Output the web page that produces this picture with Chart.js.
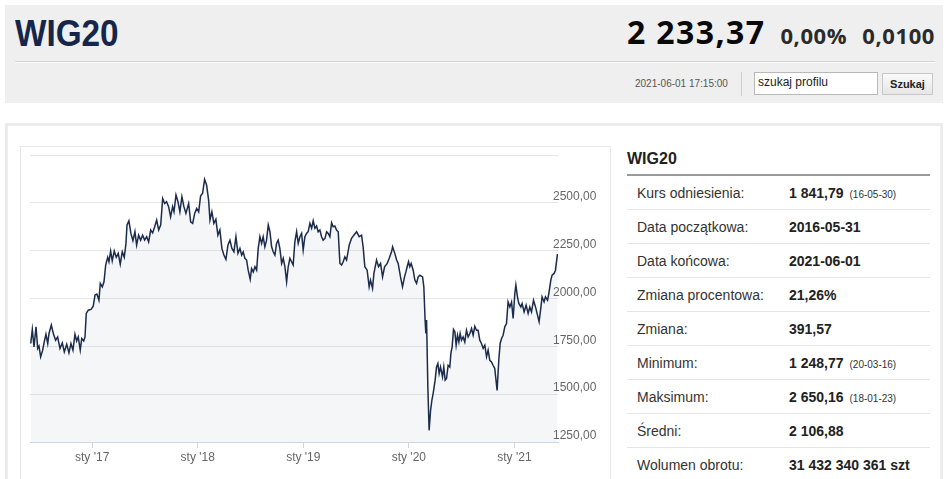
<!DOCTYPE html>
<html lang="pl">
<head>
<meta charset="utf-8">
<script src="https://cdn.jsdelivr.net/npm/chart.js@4.4.0/dist/chart.umd.min.js"></script>
<style>
  body { margin: 0; width: 948px; height: 479px; background: #fff; font-family: "Liberation Sans", Arial, sans-serif; position: relative; overflow: hidden; }
  .top { position: absolute; left: 5px; top: 5px; width: 938px; height: 98px; background: #efefef; }
  .title { position: absolute; left: 15px; top: 13px; font-size: 37px; font-weight: bold; color: #16264a; transform: scaleX(0.9); transform-origin: left top; }
  .price { position: absolute; right: 13px; top: 12px; white-space: nowrap; font-family: "Open Sans", sans-serif; font-weight: bold; line-height: 40px; }
  .price .big { font-size: 32px; letter-spacing: 1.4px; color: #0a0a0a; }
  .price .small { font-size: 22px; letter-spacing: 0.6px; margin-left: 15px; color: #2a2a2a; }
  .sep { position: absolute; left: 15px; top: 61px; width: 920px; height: 1px; background: #d6d6d6; border-bottom: 1px solid #fafafa; }
  .date { position: absolute; left: 635px; top: 78px; font-size: 10px; color: #555; }
  .vsep { position: absolute; left: 741px; top: 72px; width: 1px; height: 24px; background: #d0d0d0; }
  .search { position: absolute; left: 754px; top: 72px; background: #fff; border: 1px solid #b8b8b8; font-size: 12px; color: #222; line-height: 19px; padding-left: 3px; box-sizing: border-box; width: 124px; height: 23px; }
  .btn { position: absolute; left: 882px; top: 73px; width: 51px; height: 22px; background: linear-gradient(#fafafa, #e6e6e6); border: 1px solid #c8c8c8; box-sizing: border-box; font-size: 11px; font-weight: bold; color: #222; text-align: center; line-height: 20px; }
  .panel { position: absolute; left: 5px; top: 123px; width: 938px; height: 370px; border: 3px solid #ececec; box-sizing: border-box; }
  .chartbox { position: absolute; left: 20px; top: 146px; width: 591px; height: 340px; border: 1px solid #e8e8e8; box-sizing: border-box; }
  .wrap { position: absolute; left: 20px; top: 147px; width: 591px; height: 332px; }
  .info { position: absolute; left: 627px; top: 147px; width: 303px; }
  .info h2 { margin: 0; font-size: 16px; font-weight: bold; color: #222; height: 27px; line-height: 24px; border-bottom: 2px solid #9a9a9a; }
  .row { height: 33px; border-bottom: 1px solid #e6e6e6; position: relative; font-size: 14px; color: #333; }
  .row .l { position: absolute; left: 10px; top: 9px; }
  .row .v { position: absolute; left: 162px; top: 9px; font-weight: bold; color: #222; }
  .row .v small { font-size: 10px; font-weight: normal; margin-left: 6px; color: #333; }
</style>
</head>
<body>
<div class="top">
</div>
<div class="title">WIG20</div>
<div class="price"><span class="big">2 233,37</span><span class="small">0,00%</span><span class="small">0,0100</span></div>
<div class="sep"></div>
<div class="date">2021-06-01 17:15:00</div>
<div class="vsep"></div>
<div class="search">szukaj profilu</div>
<div class="btn">Szukaj</div>

<div class="panel"></div>
<div class="chartbox"></div>
<div class="wrap"><canvas id="myChart"></canvas></div>

<div class="info">
  <h2>WIG20</h2>
  <div class="row"><span class="l">Kurs odniesienia:</span><span class="v">1 841,79<small>(16-05-30)</small></span></div>
  <div class="row"><span class="l">Data początkowa:</span><span class="v">2016-05-31</span></div>
  <div class="row"><span class="l">Data końcowa:</span><span class="v">2021-06-01</span></div>
  <div class="row"><span class="l">Zmiana procentowa:</span><span class="v">21,26%</span></div>
  <div class="row"><span class="l">Zmiana:</span><span class="v">391,57</span></div>
  <div class="row"><span class="l">Minimum:</span><span class="v">1 248,77<small>(20-03-16)</small></span></div>
  <div class="row"><span class="l">Maksimum:</span><span class="v">2 650,16<small>(18-01-23)</small></span></div>
  <div class="row"><span class="l">Średni:</span><span class="v">2 106,88</span></div>
  <div class="row"><span class="l">Wolumen obrotu:</span><span class="v">31 432 340 361 szt</span></div>
</div>

<script>
const graph = document.querySelector("#myChart");

// czas jako ulamek roku, wartosci WIG20
const lata = [
  2016.418, 2016.433, 2016.449, 2016.468, 2016.484, 2016.496, 2016.512, 2016.531, 2016.546, 2016.562,
  2016.579, 2016.591, 2016.613, 2016.632, 2016.654, 2016.673, 2016.695, 2016.717, 2016.736, 2016.759,
  2016.780, 2016.799, 2016.818, 2016.837, 2016.853, 2016.868, 2016.887, 2016.901, 2016.920, 2016.932,
  2016.944, 2016.963, 2016.989, 2017.010, 2017.027, 2017.045, 2017.064, 2017.077, 2017.096, 2017.112,
  2017.128, 2017.147, 2017.159, 2017.175, 2017.190, 2017.209, 2017.228, 2017.247, 2017.266, 2017.285,
  2017.304, 2017.320, 2017.330, 2017.348, 2017.367, 2017.386, 2017.405, 2017.421, 2017.440, 2017.459,
  2017.478, 2017.497, 2017.516, 2017.535, 2017.554, 2017.573, 2017.592, 2017.611, 2017.630, 2017.649,
  2017.668, 2017.687, 2017.705, 2017.724, 2017.743, 2017.762, 2017.775, 2017.794, 2017.813, 2017.831,
  2017.850, 2017.869, 2017.888, 2017.914, 2017.933, 2017.952, 2017.971, 2017.990, 2018.009, 2018.027,
  2018.046, 2018.065, 2018.084, 2018.103, 2018.116, 2018.134, 2018.153, 2018.172, 2018.191, 2018.210,
  2018.229, 2018.248, 2018.267, 2018.286, 2018.305, 2018.324, 2018.343, 2018.362, 2018.381, 2018.400,
  2018.416, 2018.431, 2018.447, 2018.463, 2018.478, 2018.497, 2018.510, 2018.526, 2018.542, 2018.558,
  2018.573, 2018.589, 2018.605, 2018.620, 2018.636, 2018.652, 2018.668, 2018.684, 2018.700, 2018.715,
  2018.731, 2018.747, 2018.762, 2018.778, 2018.795, 2018.810, 2018.826, 2018.842, 2018.857, 2018.873,
  2018.889, 2018.904, 2018.920, 2018.937, 2018.952, 2018.968, 2018.984, 2018.999, 2019.015, 2019.031,
  2019.046, 2019.063, 2019.079, 2019.094, 2019.110, 2019.126, 2019.141, 2019.157, 2019.173, 2019.188,
  2019.205, 2019.221, 2019.236, 2019.252, 2019.268, 2019.283, 2019.299, 2019.315, 2019.331, 2019.347,
  2019.363, 2019.378, 2019.394, 2019.410, 2019.435, 2019.457, 2019.479, 2019.505, 2019.529, 2019.552,
  2019.567, 2019.583, 2019.605, 2019.624, 2019.637, 2019.656, 2019.669, 2019.694, 2019.713, 2019.732,
  2019.751, 2019.770, 2019.795, 2019.814, 2019.836, 2019.846, 2019.867, 2019.884, 2019.899, 2019.921,
  2019.940, 2019.959, 2019.972, 2019.984, 2019.997, 2020.009, 2020.022, 2020.041, 2020.057, 2020.073,
  2020.088, 2020.104, 2020.130, 2020.142, 2020.154, 2020.161, 2020.168, 2020.180, 2020.192, 2020.206,
  2020.218, 2020.230, 2020.249, 2020.262, 2020.275, 2020.287, 2020.300, 2020.319, 2020.331, 2020.344,
  2020.357, 2020.372, 2020.388, 2020.398, 2020.410, 2020.423, 2020.436, 2020.448, 2020.461, 2020.474,
  2020.486, 2020.499, 2020.514, 2020.530, 2020.546, 2020.562, 2020.578, 2020.594, 2020.609, 2020.625,
  2020.641, 2020.656, 2020.672, 2020.688, 2020.704, 2020.720, 2020.736, 2020.751, 2020.767, 2020.783,
  2020.798, 2020.814, 2020.824, 2020.836, 2020.852, 2020.865, 2020.878, 2020.893, 2020.909, 2020.925,
  2020.940, 2020.957, 2020.973, 2020.988, 2021.004, 2021.014, 2021.029, 2021.042, 2021.061, 2021.073,
  2021.092, 2021.111, 2021.130, 2021.146, 2021.162, 2021.181, 2021.200, 2021.219, 2021.234, 2021.250,
  2021.262, 2021.281, 2021.294, 2021.314, 2021.326, 2021.345, 2021.357, 2021.376, 2021.389, 2021.408
];

const wartosci = [
  1765, 1838, 1747, 1852, 1739, 1751, 1695, 1730, 1773, 1813,
  1765, 1817, 1861, 1817, 1782, 1799, 1739, 1768, 1721, 1761,
  1716, 1765, 1730, 1813, 1778, 1799, 1730, 1791, 1778, 1799,
  1922, 1939, 1943, 1960, 2018, 2023, 1991, 2079, 2061, 2087,
  2175, 2215, 2192, 2248, 2197, 2248, 2215, 2236, 2180, 2244,
  2215, 2288, 2384, 2406, 2340, 2302, 2349, 2279, 2331, 2305,
  2331, 2305, 2323, 2296, 2358, 2343, 2375, 2410, 2358, 2384,
  2523, 2497, 2506, 2480, 2427, 2480, 2453, 2541, 2506, 2453,
  2532, 2480, 2445, 2497, 2401, 2393, 2445, 2471, 2453, 2536,
  2550, 2623, 2593, 2515, 2410, 2453, 2393, 2414, 2331, 2358,
  2262, 2227, 2204, 2279, 2305, 2262, 2244, 2323, 2236, 2262,
  2227, 2244, 2210, 2201, 2148, 2100, 2157, 2139, 2166, 2148,
  2262, 2323, 2288, 2323, 2270, 2305, 2384, 2349, 2270, 2244,
  2227, 2288, 2305, 2262, 2183, 2210, 2166, 2087, 2166, 2210,
  2192, 2175, 2296, 2349, 2288, 2323, 2340, 2253, 2323, 2340,
  2349, 2393, 2367, 2406, 2367, 2379, 2349, 2358, 2323, 2305,
  2314, 2349, 2340, 2323, 2396, 2375, 2379, 2358, 2349, 2183,
  2175, 2192, 2218, 2201, 2279, 2314, 2331, 2349, 2323, 2331,
  2270, 2166, 2148, 2061, 2096, 2053, 2131, 2201, 2166, 2183,
  2113, 2166, 2183, 2210, 2244, 2270, 2236, 2201, 2183, 2113,
  2061, 2113, 2139, 2166, 2192, 2166, 2183, 2148, 2096, 2079,
  2113, 2122, 2113, 2061, 1887, 1817, 1887, 1538, 1311, 1416,
  1468, 1503, 1573, 1642, 1660, 1608, 1642, 1590, 1642, 1573,
  1582, 1651, 1642, 1712, 1747, 1838, 1826, 1756, 1808, 1773,
  1817, 1782, 1799, 1773, 1834, 1799, 1817, 1843, 1808, 1855,
  1834, 1834, 1782, 1765, 1739, 1756, 1695, 1730, 1677, 1669,
  1651, 1634, 1582, 1520, 1677, 1765, 1791, 1808, 1852, 1869,
  1982, 1956, 1982, 1896, 2026, 2070, 2009, 1974, 1956, 1974,
  1930, 1965, 1922, 1956, 1930, 1991, 1956, 1913, 1878, 1948,
  2009, 1982, 2009, 1991, 2026, 2096, 2122, 2131, 2148, 2233
];

const tickiX = [2017, 2018, 2019, 2020, 2021];
const etykietyX = ["sty '17", "sty '18", "sty '19", "sty '20", "sty '21"];
const tickiY = [1250, 1500, 1750, 2000, 2250, 2500, 2750];

const punkty = lata.map((r, i) => ({ x: r, y: wartosci[i] }));

Chart.defaults.font.family = "'Liberation Sans', Arial, sans-serif";
Chart.defaults.color = "#666";

function formatuj(v) {
  return v.toFixed(2).replace(".", ",");
}

// etykiety osi Y rysowane na wierzchu serii i bez przycinania (jak w oryginale)
const etykietyNaWierzchu = {
  id: "etykietyNaWierzchu",
  beforeDraw(chart) {
    const s = chart.scales.y;
    s._computeLabelArea = () => undefined;
    if (!s._rysujEtykiety) {
      s._rysujEtykiety = s.drawLabels;
      s.drawLabels = () => {};
    }
  },
  afterDatasetsDraw(chart) {
    const s = chart.scales.y;
    s._rysujEtykiety.call(s, chart.chartArea);
  },
};

new Chart(graph, {
  type: "line",
  data: {
    datasets: [
      {
        label: "WIG20",
        data: punkty,
        borderColor: "#1b2b4b",
        borderWidth: 1.5,
        backgroundColor: "rgba(30, 50, 90, 0.045)",
        fill: "start",
        pointRadius: 0,
        tension: 0,
      },
    ],
  },
  options: {
    responsive: true,
    maintainAspectRatio: false,
    animation: false,
    layout: { padding: { left: 10, top: 8, right: 0, bottom: 0 } },
    plugins: { legend: { display: false }, tooltip: { enabled: false } },
    scales: {
      x: {
        type: "linear",
        min: 2016.411,
        max: 2021.413,
        afterBuildTicks: (scale) => {
          scale.ticks = tickiX.map((v) => ({ value: v }));
        },
        afterFit: (scale) => {
          scale.height = 37;
        },
        grid: { drawOnChartArea: false, drawTicks: true, tickLength: 6, color: "#ccd6eb" },
        border: { display: true, color: "#ccd6eb" },
        ticks: {
          padding: 2,
          maxRotation: 0,
          font: { size: 12 },
          color: "#666",
          callback: (v, i) => etykietyX[i],
        },
      },
      y: {
        position: "right",
        min: 1250,
        max: 2750,
        afterBuildTicks: (scale) => {
          scale.ticks = tickiY.map((v) => ({ value: v }));
        },
        afterFit: (scale) => {
          scale.width = 53;
        },
        grid: { drawTicks: false, color: "#e6e6e6" },
        border: { display: false },
        ticks: {
          padding: -5,
          labelOffset: -6,
          font: { size: 12 },
          color: "#666",
          callback: (v) => (v === 2750 ? "" : formatuj(v)),
        },
      },
    },
  },
  plugins: [etykietyNaWierzchu],
});
</script>
</body>
</html>
